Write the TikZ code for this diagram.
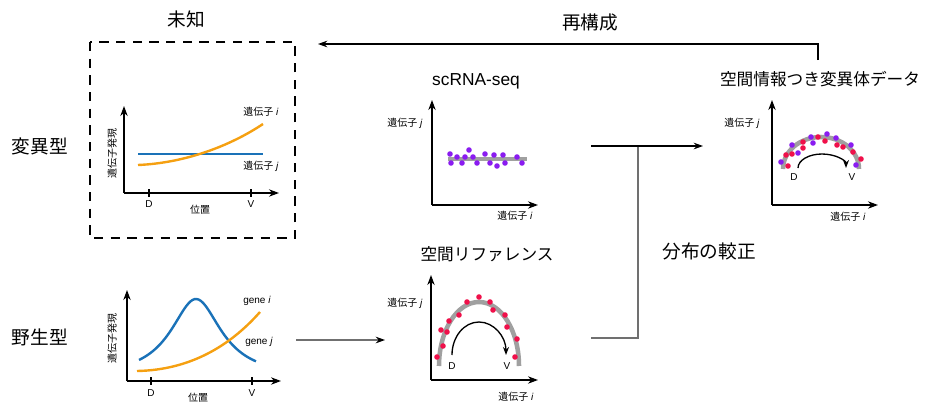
\documentclass[tikz,border=0pt]{standalone}
\usepackage{fontspec}
\setmainfont{Liberation Sans}
\newfontfamily\jp{Noto Sans CJK JP}
\usetikzlibrary{arrows.meta}

\definecolor{geneblue}{HTML}{1A72B8}
\definecolor{geneorange}{HTML}{F5A011}
\definecolor{dotred}{HTML}{F0104A}
\definecolor{dotpurple}{HTML}{8A1CF0}
\definecolor{archgray}{HTML}{A0A0A0}
\definecolor{linkgray}{HTML}{707070}

\tikzset{
  axis/.style={line width=1.1pt, -{Stealth[length=7.5pt,width=5.5pt]}},
  tick/.style={line width=1pt},
  curveblue/.style={geneblue, line width=1.8pt},
  curveorange/.style={geneorange, line width=1.8pt},
  arch/.style={archgray, line width=3.4pt},
  flow/.style={line width=0.9pt, -{Stealth[length=7pt,width=5pt,color=black]}},
  small/.style={font=\fontsize{7.5}{9}\selectfont},
  bigtxt/.style={font=\jp\fontsize{14}{16}\selectfont},
  titletxt/.style={font=\jp\fontsize{12.5}{15}\selectfont},
}
\newcommand{\genelbl}[1]{{\jp 遺伝子} \textit{#1}}

\begin{document}
\begin{tikzpicture}[x=0.75pt, y=-0.75pt, every node/.style={inner sep=0pt}]
  \useasboundingbox (0,0) rectangle (929,407);

  % row labels
  \node[bigtxt] (mut) at (40,146) {変異型};
  \node[bigtxt] (wt) at (40,337) {野生型};
  \node[bigtxt] (unknown) at (186,19) {未知};
  \node[bigtxt] (recon) at (590,22) {再構成};
  \node[bigtxt] (calib) at (709,251) {分布の較正};

  % mutant panel (unknown)
  \draw[line width=1.1pt, dash pattern=on 7pt off 5.5pt] (90,42) rectangle (295,238);
  \draw[axis] (124,193) -- (124,106);
  \draw[axis] (124,193) -- (279,193);
  \draw[tick] (149,189) -- (149,197);
  \draw[tick] (251,189) -- (251,197);
  \node[small] (mutd) at (149,204) {D};
  \node[small] (mutv) at (251,204) {V};
  \node[small, font=\jp\fontsize{7.5}{9}\selectfont] (mutx) at (200,210) {位置};
  \node[small, font=\jp\fontsize{7.5}{9}\selectfont, rotate=90] (muty) at (112,153) {遺伝子発現};
  \draw[curveblue] (138,154) -- (263,154);
  \draw[curveorange] (138,165) .. controls (185,163) and (230,146) .. (263,124);
  \node[small] (muti) at (261,112) {\genelbl{i}};
  \node[small] (mutj) at (261,166) {\genelbl{j}};

  % wild type panel
  \draw[axis] (127,381) -- (127,290);
  \draw[axis] (127,381) -- (281,381);
  \draw[tick] (151,377) -- (151,385);
  \draw[tick] (252,377) -- (252,385);
  \node[small] (wtd) at (151,393) {D};
  \node[small] (wtv) at (252,393) {V};
  \node[small, font=\jp\fontsize{7.5}{9}\selectfont] (wtx) at (198,398) {位置};
  \node[small, font=\jp\fontsize{7.5}{9}\selectfont, rotate=90] (wty) at (112,338) {遺伝子発現};
  \draw[curveblue, domain=139:256, samples=60, smooth] plot (\x, {378-79/(1+((\x-196)/31)^2)});
  \draw[curveorange] (137,371) .. controls (190,370) and (230,346) .. (260,312);
  \node[small] (wti) at (257,301) {gene \textit{i}};
  \node[small] (wtj) at (259,342) {gene \textit{j}};

  % scRNA-seq panel
  \node[font=\fontsize{13}{15}\selectfont] (scrna) at (476,81) {scRNA-seq};
  \draw[axis] (432,205) -- (432,100);
  \draw[axis] (432,205) -- (538,205);
  \node[small] (scj) at (405,123) {\genelbl{j}};
  \node[small] (sci) at (515,216) {\genelbl{i}};
  \draw[archgray, line width=3pt] (448,159) -- (527,159);
  \foreach \p in {(450,154),(457,157),(465,157),(469,150),(473,157),(485,154),(494,155),(503,155),(517,157),
                  (451,163),(462,163),(477,163),(490,163),(497,166),(505,163),(522,163)}
    \fill[dotpurple] \p circle[radius=2.8];

  % spatial reference panel
  \node[titletxt] (ref) at (487,254) {空間リファレンス};
  \draw[axis] (431,380) -- (431,275);
  \draw[axis] (431,380) -- (538,380);
  \node[small] (refj) at (405,303) {\genelbl{j}};
  \node[small] (refi) at (516,397) {\genelbl{i}};
  \draw[arch] (439,366) arc[start angle=180, end angle=360, x radius=40, y radius=64];
  \foreach \p in {(437,357),(443,346),(441,330),(447,332),(449,321),(459,315),(467,302),(479,297),
                  (490,302),(493,310),(505,315),(507,327),(517,339),(515,357)}
    \fill[dotred] \p circle[radius=2.8];
  \draw[line width=1pt, -{Stealth[length=6pt,width=4.5pt]}] (452,355) arc[start angle=180, end angle=360, x radius=27, y radius=33];
  \node[small] (refd) at (452,366) {D};
  \node[small] (refv) at (507,366) {V};

  % spatial mutant data panel
  \node[titletxt] (res) at (820,79) {空間情報つき変異体データ};
  \draw[axis] (772,205) -- (772,100);
  \draw[axis] (772,205) -- (878,205);
  \node[small] (resj) at (742,123) {\genelbl{j}};
  \node[small] (resi) at (848,217) {\genelbl{i}};
  \draw[arch] (783,169) arc[start angle=180, end angle=360, x radius=38, y radius=32];
  \foreach \p in {(786,155),(788,166),(792,154),(803,142),(803,148),(818,137),(825,141),(837,145),(843,147),(853,152),(861,159)}
    \fill[dotred] \p circle[radius=2.8];
  \foreach \p in {(781,162),(792,145),(798,153),(811,137),(813,143),(827,134),(836,138),(851,145),(856,165)}
    \fill[dotpurple] \p circle[radius=2.8];
  \draw[line width=1pt, -{Stealth[length=6pt,width=4.5pt]}] (798,168) arc[start angle=180, end angle=360, x radius=24, y radius=14];
  \node[small] (resd) at (794,177) {D};
  \node[small] (resv) at (852,177) {V};

  % connectors
  \coordinate (wtout) at (296,340);
  \coordinate (refin) at (385,340);
  \coordinate (scout) at (591,146);
  \coordinate (refout) at (591,338);
  \coordinate (join) at (638,146);
  \coordinate (resin) at (703,146);
  \coordinate (resout) at (818,60);
  \coordinate (mutin) at (318,44);
  \draw[flow, linkgray] (wtout) -- (refin);
  \draw[line width=0.9pt, linkgray] (refout) -| (join);
  \draw[flow] (scout) -- (resin);
  \draw[flow] (resout) |- (mutin);
\end{tikzpicture}
\end{document}
